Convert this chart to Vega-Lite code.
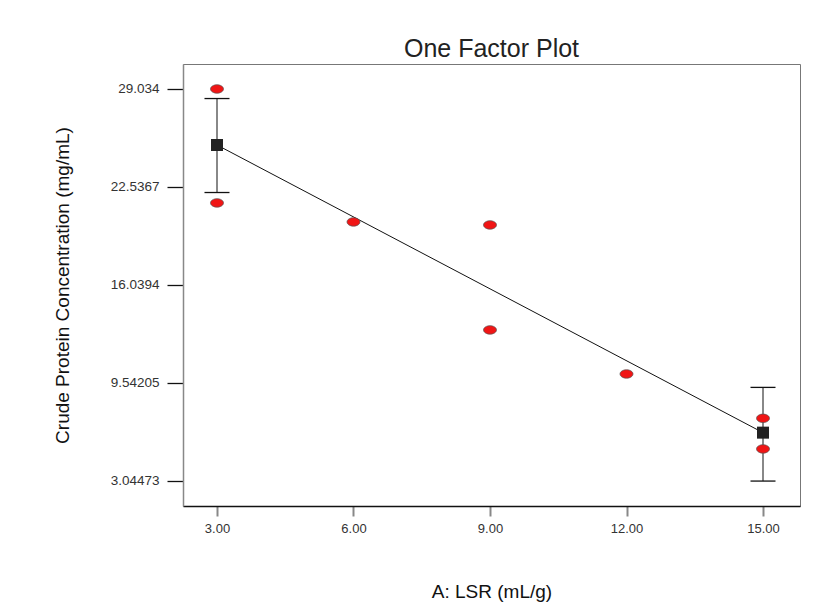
{
  "$schema": "https://vega.github.io/schema/vega-lite/v6.json",
  "width": 617,
  "height": 442,
  "autosize": {"type": "none"},
  "padding": {"left": 183, "top": 64, "right": 30, "bottom": 99},
  "background": "white",
  "config": {
    "font": "Liberation Sans",
    "view": {"stroke": "#777", "strokeWidth": 1}
  },
  "title": {
    "text": "One Factor Plot",
    "fontSize": 25,
    "fontWeight": "normal",
    "color": "#222",
    "offset": -18,
    "baseline": "alphabetic",
    "font": "Liberation Sans"
  },
  "datasets": {
    "points": [
      {"lsr": 3, "protein": 29.034},
      {"lsr": 3, "protein": 21.48},
      {"lsr": 6, "protein": 20.22},
      {"lsr": 9, "protein": 20.02},
      {"lsr": 9, "protein": 13.06},
      {"lsr": 12, "protein": 10.14},
      {"lsr": 15, "protein": 7.2},
      {"lsr": 15, "protein": 5.17}
    ],
    "fit": [
      {"lsr": 3, "pred": 25.32, "low": 22.17, "high": 28.4},
      {"lsr": 15, "pred": 6.25, "low": 3.04, "high": 9.25}
    ]
  },
  "encoding": {
    "x": {
      "field": "lsr",
      "type": "quantitative",
      "scale": {"domain": [2.253, 15.813], "nice": false, "zero": false},
      "axis": {
        "title": "A: LSR (mL/g)",
        "values": [3, 6, 9, 12, 15],
        "format": ".2f",
        "grid": false,
        "domainColor": "#111",
        "domainWidth": 1.5,
        "tickColor": "#888",
        "tickSize": 10,
        "tickWidth": 2,
        "labelFontSize": 13,
        "labelColor": "#333",
        "labelPadding": 6,
        "titleFontSize": 19,
        "titleFontWeight": "normal",
        "titleColor": "#111",
        "titlePadding": 47
      }
    }
  },
  "layer": [
    {
      "data": {"name": "fit"},
      "mark": {"type": "rule", "color": "#888", "strokeWidth": 2},
      "encoding": {
        "y": {
          "field": "low",
          "type": "quantitative",
          "scale": {"domain": [1.387, 30.69], "nice": false, "zero": false},
          "axis": {
            "title": "Crude Protein Concentration (mg/mL)",
            "values": [3.04473, 9.54205, 16.0394, 22.5367, 29.034],
            "format": ".6",
            "grid": false,
            "domainColor": "#888",
            "domainWidth": 1.5,
            "tickColor": "#111",
            "tickSize": 16,
            "tickWidth": 1.3,
            "labelFontSize": 13.5,
            "labelColor": "#333",
            "labelPadding": 8,
            "titleFontSize": 19,
            "titleFontWeight": "normal",
            "titleColor": "#111",
            "titlePadding": 38
          }
        },
        "y2": {"field": "high"}
      }
    },
    {
      "data": {"name": "fit"},
      "mark": {"type": "tick", "orient": "horizontal", "size": 25, "thickness": 1.3, "color": "#111", "opacity": 1},
      "encoding": {"y": {"field": "high", "type": "quantitative"}}
    },
    {
      "data": {"name": "fit"},
      "mark": {"type": "tick", "orient": "horizontal", "size": 25, "thickness": 1.3, "color": "#111", "opacity": 1},
      "encoding": {"y": {"field": "low", "type": "quantitative"}}
    },
    {
      "data": {"name": "fit"},
      "mark": {"type": "line", "color": "#111", "strokeWidth": 1},
      "encoding": {"y": {"field": "pred", "type": "quantitative"}}
    },
    {
      "data": {"name": "points"},
      "mark": {
        "type": "point",
        "shape": "M -1 0 A 1 0.65 0 1 1 1 0 A 1 0.65 0 1 1 -1 0 Z",
        "size": 169,
        "filled": true,
        "fill": "#f01515",
        "stroke": "#555",
        "strokeWidth": 0.7,
        "opacity": 1
      },
      "encoding": {"y": {"field": "protein", "type": "quantitative"}}
    },
    {
      "data": {"name": "fit"},
      "mark": {"type": "point", "shape": "square", "size": 144, "filled": true, "color": "#222", "opacity": 1},
      "encoding": {"y": {"field": "pred", "type": "quantitative"}}
    }
  ]
}
